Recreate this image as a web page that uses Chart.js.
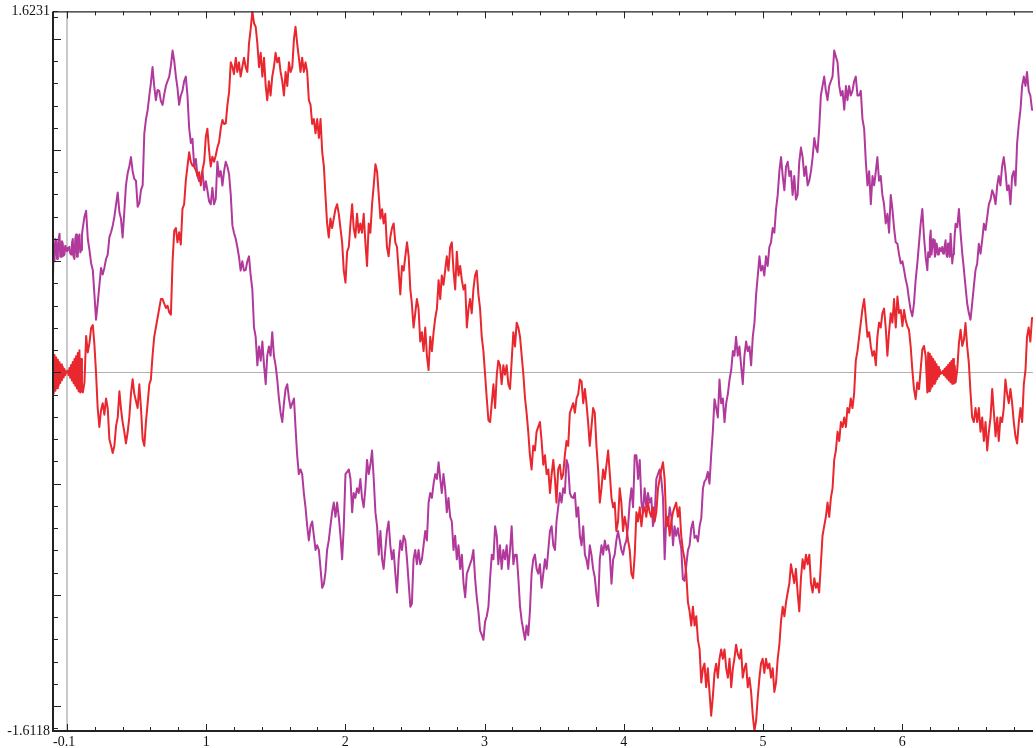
<!DOCTYPE html>
<html><head><meta charset="utf-8">
<script src="https://cdn.jsdelivr.net/npm/chart.js@4/dist/chart.umd.min.js"></script>
<style>html,body{margin:0;padding:0;background:#fff;}canvas{display:block;}</style>
</head><body>
<canvas id="c" width="1036" height="748"></canvas>
<script>
const xValues = [
 -0.101,-0.095,-0.089,-0.083,-0.077,-0.071,-0.065,-0.059,-0.053,-0.048,-0.042,-0.036,-0.030,-0.024,-0.018,-0.012,-0.006,0.000,0.006,0.012,0.018,0.024,0.030,0.036,0.042,0.048,0.054,0.060,0.066,0.072,0.078,0.084,0.090,0.096,0.102,0.108,0.114,0.126,
 0.138,0.150,0.162,0.174,0.186,0.197,0.209,0.221,0.233,0.245,
 0.257,0.269,0.281,0.293,0.305,0.317,0.329,0.341,0.353,0.365,
 0.377,0.388,0.400,0.412,0.424,0.436,0.448,0.460,0.472,0.484,
 0.496,0.508,0.520,0.532,0.544,0.556,0.568,0.580,0.592,0.603,
 0.615,0.627,0.639,0.651,0.663,0.675,0.687,0.699,0.711,0.723,
 0.735,0.747,0.759,0.771,0.783,0.794,0.806,0.818,0.830,0.842,
 0.854,0.866,0.878,0.890,0.902,0.914,0.926,0.938,0.950,0.962,
 0.974,0.986,0.998,1.009,1.021,1.033,1.045,1.057,1.069,1.081,
 1.093,1.105,1.117,1.129,1.141,1.153,1.165,1.177,1.189,1.200,
 1.213,1.224,1.236,1.248,1.260,1.272,1.284,1.296,1.308,1.320,
 1.332,1.344,1.356,1.368,1.380,1.392,1.404,1.416,1.428,1.439,
 1.451,1.463,1.475,1.487,1.499,1.511,1.523,1.535,1.547,1.559,
 1.571,1.583,1.595,1.607,1.619,1.631,1.642,1.654,1.666,1.678,
 1.690,1.702,1.714,1.726,1.738,1.750,1.762,1.774,1.786,1.798,
 1.810,1.822,1.834,1.846,1.857,1.869,1.881,1.893,1.905,1.917,
 1.929,1.941,1.953,1.965,1.977,1.989,2.001,2.013,2.025,2.037,
 2.049,2.060,2.072,2.084,2.096,2.108,2.120,2.132,2.144,2.156,
 2.168,2.180,2.192,2.204,2.216,2.228,2.240,2.252,2.264,2.275,
 2.287,2.299,2.311,2.323,2.335,2.347,2.359,2.371,2.383,2.395,
 2.407,2.419,2.431,2.443,2.455,2.467,2.478,2.490,2.502,2.514,
 2.526,2.538,2.550,2.562,2.574,2.586,2.598,2.610,2.622,2.634,
 2.646,2.658,2.670,2.682,2.693,2.705,2.717,2.729,2.741,2.753,
 2.765,2.777,2.789,2.801,2.813,2.825,2.837,2.849,2.861,2.873,
 2.885,2.896,2.908,2.920,2.932,2.944,2.956,2.968,2.980,2.992,
 3.004,3.016,3.028,3.040,3.052,3.064,3.076,3.088,3.099,3.111,
 3.123,3.135,3.147,3.159,3.171,3.183,3.195,3.207,3.219,3.231,
 3.243,3.255,3.267,3.279,3.291,3.302,3.314,3.326,3.338,3.350,
 3.362,3.374,3.386,3.398,3.410,3.422,3.434,3.446,3.458,3.470,
 3.482,3.494,3.506,3.517,3.529,3.541,3.553,3.565,3.577,3.589,
 3.601,3.613,3.625,3.637,3.649,3.661,3.673,3.685,3.697,3.709,
 3.721,3.732,3.744,3.756,3.768,3.780,3.792,3.804,3.816,3.828,
 3.840,3.852,3.864,3.876,3.888,3.900,3.912,3.924,3.935,3.947,
 3.959,3.971,3.983,3.995,4.007,4.019,4.031,4.043,4.055,4.067,
 4.079,4.091,4.103,4.115,4.127,4.138,4.150,4.162,4.174,4.186,
 4.198,4.210,4.222,4.234,4.246,4.258,4.270,4.282,4.294,4.306,
 4.318,4.330,4.342,4.354,4.365,4.377,4.389,4.401,4.413,4.425,
 4.437,4.449,4.461,4.473,4.485,4.497,4.509,4.521,4.533,4.545,
 4.557,4.569,4.580,4.592,4.604,4.616,4.628,4.640,4.652,4.664,
 4.676,4.688,4.700,4.712,4.724,4.736,4.748,4.760,4.772,4.784,
 4.795,4.807,4.819,4.831,4.843,4.855,4.867,4.879,4.891,4.903,
 4.915,4.927,4.939,4.951,4.963,4.975,4.986,4.998,5.010,5.022,
 5.034,5.046,5.058,5.070,5.082,5.094,5.106,5.118,5.130,5.142,
 5.154,5.166,5.178,5.190,5.201,5.213,5.225,5.237,5.249,5.261,
 5.273,5.285,5.297,5.309,5.321,5.333,5.345,5.357,5.369,5.381,
 5.392,5.404,5.416,5.428,5.440,5.452,5.464,5.476,5.488,5.500,
 5.512,5.524,5.536,5.548,5.560,5.572,5.584,5.596,5.607,5.619,
 5.631,5.643,5.655,5.667,5.679,5.691,5.703,5.715,5.727,5.739,
 5.751,5.763,5.775,5.787,5.799,5.811,5.822,5.834,5.846,5.858,
 5.870,5.882,5.894,5.906,5.918,5.930,5.942,5.954,5.966,5.978,
 5.990,6.002,6.014,6.025,6.037,6.049,6.061,6.073,6.085,6.097,
 6.109,6.121,6.133,6.145,6.157,6.169,
 6.181,6.187,6.193,6.199,6.205,6.211,6.217,6.223,6.229,6.235,6.241,6.247,6.252,6.258,6.264,6.270,6.276,6.282,6.288,6.294,6.300,6.306,6.312,6.318,6.324,6.330,6.336,6.342,6.348,6.354,6.360,6.366,6.372,6.378,6.384,
 6.396,6.408,6.420,6.432,6.444,6.455,6.467,6.479,6.491,6.503,
 6.515,6.527,6.539,6.551,6.563,6.575,6.587,6.599,6.611,6.623,
 6.635,6.647,6.659,6.671,6.683,6.694,6.706,6.718,6.730,6.742,
 6.754,6.766,6.778,6.790,6.802,6.814,6.826,6.838,6.850,6.862,
 6.874,6.886,6.897,6.909,6.921,6.933,6.945
];

// red curve
const redValues = [
 0.088,-0.094,0.078,-0.082,0.067,-0.071,0.057,-0.059,0.046,-0.047,0.036,-0.035,0.026,-0.023,0.015,-0.012,0.005,0.0,0.007,-0.012,0.020,-0.024,0.034,-0.036,0.047,-0.048,0.060,-0.060,0.073,-0.072,0.087,-0.084,0.100,-0.09,0.06,-0.085,-0.09,-0.045,
 0.164,0.09,0.133,0.20,0.213,0.13,0.0,-0.160,-0.245,-0.17,
 -0.138,-0.19,-0.117,-0.16,-0.30,-0.33,-0.362,-0.33,-0.24,-0.202,
 -0.085,-0.16,-0.223,-0.266,-0.319,-0.27,-0.202,-0.096,-0.03,-0.096,
 -0.128,-0.160,-0.053,-0.16,-0.30,-0.330,-0.22,-0.138,-0.053,-0.032,
 0.075,0.160,0.202,0.245,0.287,0.33,0.33,0.31,0.29,0.30,
 0.27,0.26,0.50,0.638,0.649,0.585,0.63,0.575,0.735,0.756,
 0.862,0.926,0.99,0.947,0.93,0.926,0.91,0.883,0.90,0.841,
 0.91,0.947,1.06,1.096,1.00,0.926,0.97,0.947,0.975,1.011,
 1.036,1.096,1.135,1.117,1.12,1.203,1.26,1.394,1.373,1.341,
 1.415,1.351,1.394,1.330,1.373,1.415,1.373,1.351,1.479,1.543,
 1.6231,1.57,1.554,1.479,1.373,1.437,1.330,1.415,1.288,1.224,
 1.309,1.245,1.330,1.373,1.437,1.394,1.415,1.351,1.309,1.245,
 1.351,1.288,1.394,1.351,1.373,1.500,1.554,1.479,1.415,1.351,
 1.415,1.351,1.394,1.351,1.224,1.203,1.117,1.139,1.075,1.139,
 1.054,1.139,0.990,0.926,0.798,0.670,0.607,0.692,0.649,0.692,
 0.734,0.756,0.713,0.649,0.585,0.458,0.404,0.543,0.564,0.670,
 0.756,0.649,0.607,0.713,0.628,0.670,0.628,0.713,0.585,0.479,
 0.670,0.628,0.756,0.841,0.936,0.905,0.798,0.692,0.734,0.670,
 0.713,0.564,0.522,0.607,0.649,0.670,0.585,0.564,0.458,0.351,
 0.479,0.458,0.522,0.585,0.522,0.373,0.309,0.202,0.266,0.330,
 0.287,0.139,0.181,0.096,0.202,0.075,0.011,0.160,0.096,0.181,
 0.245,0.287,0.415,0.330,0.436,0.394,0.458,0.522,0.458,0.564,
 0.585,0.458,0.373,0.543,0.436,0.479,0.415,0.373,0.394,0.202,
 0.287,0.330,0.266,0.373,0.436,0.458,0.351,0.287,0.160,0.096,
 -0.010,-0.117,-0.215,-0.223,-0.138,-0.053,-0.160,-0.010,0.053,0.032,
 -0.053,0.032,-0.010,0.032,-0.053,-0.074,0.053,0.181,0.117,0.224,
 0.202,0.160,0.075,-0.010,-0.117,-0.181,-0.266,-0.372,-0.436,-0.330,
 -0.351,-0.266,-0.245,-0.223,-0.308,-0.415,-0.372,-0.457,-0.436,-0.542,
 -0.457,-0.393,-0.479,-0.585,-0.436,-0.415,-0.479,-0.457,-0.372,-0.308,
 -0.330,-0.181,-0.160,-0.138,-0.181,-0.117,-0.096,-0.032,-0.04,-0.138,
 -0.074,-0.138,-0.223,-0.330,-0.245,-0.160,-0.181,-0.330,-0.436,-0.585,
 -0.521,-0.436,-0.479,-0.415,-0.351,-0.457,-0.564,-0.606,-0.585,-0.713,
 -0.670,-0.521,-0.585,-0.713,-0.649,-0.691,-0.755,-0.798,-0.904,-0.925,
 -0.819,-0.628,-0.670,-0.606,-0.691,-0.628,-0.606,-0.649,-0.585,-0.628,
 -0.649,-0.606,-0.670,-0.628,-0.521,-0.479,-0.436,-0.404,-0.48,-0.691,
 -0.649,-0.734,-0.670,-0.628,-0.606,-0.585,-0.649,-0.606,-0.734,-0.798,
 -0.840,-0.904,-1.032,-1.074,-1.138,-1.053,-1.138,-1.096,-1.202,-1.245,
 -1.394,-1.330,-1.309,-1.415,-1.330,-1.436,-1.543,-1.458,-1.351,-1.309,
 -1.372,-1.287,-1.245,-1.287,-1.245,-1.330,-1.372,-1.287,-1.415,-1.330,
 -1.287,-1.224,-1.266,-1.287,-1.245,-1.372,-1.330,-1.309,-1.415,-1.372,
 -1.436,-1.543,-1.6118,-1.564,-1.458,-1.372,-1.309,-1.287,-1.351,-1.287,
 -1.330,-1.309,-1.372,-1.330,-1.436,-1.394,-1.287,-1.224,-1.117,-1.053,
 -1.096,-1.032,-0.989,-0.947,-0.862,-0.904,-0.947,-0.883,-0.989,-1.074,
 -0.925,-0.840,-0.883,-0.819,-0.862,-0.819,-0.947,-0.989,-0.925,-0.968,
 -0.947,-0.989,-0.862,-0.734,-0.691,-0.649,-0.585,-0.649,-0.564,-0.521,
 -0.393,-0.351,-0.266,-0.308,-0.223,-0.245,-0.202,-0.245,-0.160,-0.181,
 -0.117,-0.160,-0.096,0.053,0.096,0.160,0.224,0.287,0.330,0.245,
 0.160,0.181,0.117,0.075,0.096,0.032,0.160,0.224,0.202,0.266,
 0.287,0.202,0.075,0.181,0.266,0.224,0.330,0.202,0.341,0.267,
 0.281,0.208,0.281,0.237,0.208,0.192,0.119,0.014,-0.075,-0.120,
 -0.045,-0.075,0.014,0.103,0.119,0.074,
 -0.09,0.09,-0.085,0.084,-0.074,0.072,-0.063,0.060,-0.051,0.049,-0.040,0.037,-0.029,0.025,-0.018,0.013,-0.007,0.001,-0.003,0.008,-0.011,0.017,-0.019,0.025,-0.028,0.034,-0.036,0.043,-0.044,0.051,-0.052,0.060,-0.050,0.03,-0.045,
 0.014,0.133,0.192,0.119,0.148,0.222,0.119,0.044,-0.089,-0.202,
 -0.223,-0.160,-0.223,-0.160,-0.266,-0.202,-0.308,-0.223,-0.351,-0.266,
 -0.202,-0.074,-0.181,-0.287,-0.202,-0.308,-0.202,-0.223,-0.160,-0.032,
 -0.096,-0.138,-0.074,-0.138,-0.223,-0.287,-0.319,-0.223,-0.160,-0.223,
 -0.053,0.011,0.160,0.202,0.139,0.245,0.245
];

// purple curve
const purpleValues = [
 0.40,0.58,0.50,0.60,0.594,0.51,0.534,0.60,0.624,0.52,0.52,0.59,0.58,0.525,0.53,0.57,0.56,0.545,0.549,0.56,0.565,0.535,0.53,0.58,0.60,0.52,0.51,0.60,0.62,0.52,0.52,0.61,0.62,0.54,0.55,0.62,0.65,0.70,
 0.727,0.60,0.55,0.49,0.46,0.356,0.237,0.311,0.39,0.47,
 0.44,0.47,0.51,0.53,0.607,0.63,0.66,0.70,0.756,0.809,
 0.72,0.692,0.607,0.72,0.841,0.894,0.926,0.968,0.905,0.87,
 0.862,0.745,0.76,0.82,0.841,1.075,1.139,1.18,1.245,1.30,
 1.373,1.288,1.224,1.27,1.266,1.22,1.203,1.25,1.288,1.31,
 1.330,1.38,1.447,1.40,1.330,1.28,1.203,1.245,1.266,1.309,
 1.330,1.245,1.10,1.032,1.05,0.926,0.96,0.883,0.86,0.862,
 0.905,0.819,0.86,0.819,0.77,0.756,0.83,0.756,0.78,0.947,
 0.88,0.905,0.84,0.905,0.947,0.926,0.89,0.798,0.66,0.628,
 0.60,0.564,0.52,0.458,0.50,0.458,0.46,0.50,0.522,0.436,
 0.373,0.202,0.160,0.032,0.117,0.053,0.139,0.032,-0.053,0.075,
 0.117,0.075,0.181,0.075,0.032,-0.032,-0.117,-0.181,-0.223,-0.138,
 -0.074,-0.053,-0.117,-0.160,-0.138,-0.117,-0.245,-0.372,-0.457,-0.436,
 -0.457,-0.542,-0.606,-0.691,-0.755,-0.691,-0.670,-0.734,-0.798,-0.777,
 -0.798,-0.883,-0.968,-0.95,-0.90,-0.798,-0.755,-0.691,-0.628,-0.585,
 -0.649,-0.585,-0.649,-0.734,-0.840,-0.691,-0.457,-0.447,-0.436,-0.479,
 -0.628,-0.542,-0.564,-0.521,-0.542,-0.479,-0.564,-0.606,-0.521,-0.393,
 -0.457,-0.415,-0.351,-0.479,-0.628,-0.691,-0.819,-0.713,-0.840,-0.883,
 -0.798,-0.713,-0.670,-0.777,-0.840,-0.798,-0.904,-0.989,-0.840,-0.755,
 -0.798,-0.734,-0.755,-0.840,-0.947,-1.053,-1.04,-0.840,-0.798,-0.862,
 -0.798,-0.862,-0.840,-0.777,-0.713,-0.755,-0.585,-0.542,-0.564,-0.500,
 -0.457,-0.479,-0.404,-0.479,-0.542,-0.457,-0.521,-0.628,-0.564,-0.649,
 -0.670,-0.798,-0.734,-0.840,-0.777,-0.883,-0.819,-0.947,-1.011,-0.904,
 -0.883,-0.862,-0.840,-0.798,-0.925,-1.011,-1.074,-1.160,-1.18,-1.202,
 -1.12,-1.096,-1.053,-0.925,-0.819,-0.840,-0.691,-0.734,-0.862,-0.777,
 -0.883,-0.798,-0.840,-0.777,-0.883,-0.798,-0.691,-0.862,-0.819,-0.819,
 -0.925,-1.053,-1.117,-1.160,-1.202,-1.138,-1.181,-1.074,-0.904,-0.840,
 -0.819,-0.883,-0.904,-0.862,-0.968,-0.904,-0.840,-0.883,-0.798,-0.713,
 -0.691,-0.777,-0.798,-0.670,-0.606,-0.542,-0.585,-0.521,-0.542,-0.393,
 -0.42,-0.542,-0.56,-0.564,-0.542,-0.649,-0.606,-0.734,-0.777,-0.691,
 -0.819,-0.840,-0.883,-0.777,-0.819,-0.883,-0.92,-1.0,-1.05,-0.840,
 -0.777,-0.819,-0.755,-0.798,-0.777,-0.819,-0.95,-0.840,-0.819,-0.755,
 -0.713,-0.755,-0.798,-0.819,-0.777,-0.755,-0.691,-0.585,-0.521,-0.606,
 -0.372,-0.372,-0.479,-0.393,-0.585,-0.628,-0.521,-0.606,-0.542,-0.585,
 -0.564,-0.691,-0.649,-0.479,-0.457,-0.436,-0.479,-0.564,-0.840,-0.649,
 -0.691,-0.606,-0.649,-0.777,-0.691,-0.734,-0.70,-0.75,-0.79,-0.93,
 -0.937,-0.87,-0.80,-0.777,-0.70,-0.670,-0.744,-0.734,-0.76,-0.691,
 -0.655,-0.521,-0.49,-0.479,-0.447,-0.500,-0.372,-0.266,-0.12,-0.160,
 -0.202,-0.032,-0.138,-0.117,-0.223,-0.138,-0.096,-0.032,0.011,0.096,
 0.075,0.160,0.075,0.117,0.032,-0.053,0.075,0.139,0.096,0.117,
 0.032,0.160,0.224,0.351,0.436,0.522,0.458,0.479,0.436,0.522,
 0.479,0.564,0.585,0.649,0.628,0.734,0.798,0.905,0.968,0.883,
 0.819,0.926,0.947,0.883,0.905,0.798,0.883,0.777,0.798,0.947,
 1.011,0.968,0.883,0.926,0.841,0.862,0.905,0.968,1.054,1.011,
 0.990,1.096,1.245,1.288,1.330,1.266,1.224,1.288,1.309,1.330,
 1.447,1.42,1.394,1.288,1.245,1.266,1.181,1.288,1.224,1.288,
 1.245,1.266,1.309,1.330,1.245,1.245,1.266,1.139,1.096,0.947,
 0.841,0.905,0.756,0.883,0.841,0.905,0.968,0.862,0.883,0.798,
 0.756,0.670,0.713,0.628,0.798,0.734,0.649,0.585,0.579,0.53,
 0.490,0.50,0.460,0.42,0.387,0.33,0.281,0.253,0.311,0.415,
 0.490,0.579,0.668,0.735,0.609,0.519,
 0.460,0.54,0.519,0.60,0.638,0.53,0.564,0.60,0.594,0.52,0.534,0.58,0.564,0.53,0.534,0.56,0.549,0.545,0.564,0.535,0.534,0.57,0.594,0.53,0.519,0.58,0.55,0.52,0.624,0.56,0.490,0.53,0.549,0.62,0.668,
 0.653,0.735,0.624,0.534,0.460,0.387,0.311,0.267,0.237,0.311,
 0.387,0.460,0.490,0.579,0.534,0.594,0.668,0.64,0.698,0.757,
 0.777,0.819,0.798,0.756,0.841,0.883,0.841,0.926,0.968,0.905,
 0.819,0.841,0.756,0.883,0.905,0.841,1.032,1.117,1.181,1.288,
 1.330,1.288,1.351,1.266,1.245,1.181,1.181
];

// axis ticks and labels
const xLabelValues = [-0.1, 1, 2, 3, 4, 5, 6];
const xLabels = ['-0.1', '1', '2', '3', '4', '5', '6'];
const yLabelValues = [-1.6118, 1.6231];
const yLabels = ['-1.6118', '1.6231'];
const xTickMarks = [0,0.2,0.4,0.6,0.8,1,1.2,1.4,1.6,1.8,2,2.2,2.4,2.6,2.8,3,3.2,3.4,3.6,3.8,4,4.2,4.4,4.6,4.8,5,5.2,5.4,5.6,5.8,6,6.2,6.4,6.6,6.8];
const yTickMarks = [-1.6,-1.5,-1.4,-1.3,-1.2,-1.1,-1,-0.9,-0.8,-0.7,-0.6,-0.5,-0.4,-0.3,-0.2,-0.1,0,0.1,0.2,0.3,0.4,0.5,0.6,0.7,0.8,0.9,1,1.1,1.2,1.3,1.4,1.5,1.6];
const xMin = -0.1, xMax = 6.94, yMin = -1.6118, yMax = 1.6231;

if (redValues.length !== xValues.length || purpleValues.length !== xValues.length) {
  throw new Error('length mismatch x=' + xValues.length + ' red=' + redValues.length + ' purple=' + purpleValues.length);
}

const toPoints = vals => xValues.map((x, i) => ({x: x, y: vals[i]}));

const framePlugin = {
  id: 'frame',
  beforeDatasetsDraw(chart) {
    const {ctx, chartArea: a, scales: {x, y}} = chart;
    ctx.save();
    const px0 = Math.round(x.getPixelForValue(0));
    ctx.strokeStyle = '#c9c9c9'; ctx.lineWidth = 2;
    ctx.beginPath(); ctx.moveTo(px0, a.top); ctx.lineTo(px0, a.bottom); ctx.stroke();
    const py0 = Math.round(y.getPixelForValue(0)) + 0.5;
    ctx.strokeStyle = '#b0b0b0'; ctx.lineWidth = 1;
    ctx.beginPath(); ctx.moveTo(a.left, py0); ctx.lineTo(a.right, py0); ctx.stroke();
    ctx.restore();
  },
  afterDatasetsDraw(chart) {
    const {ctx, chartArea: a, scales: {x, y}} = chart;
    ctx.save();
    ctx.strokeStyle = '#222';
    ctx.lineWidth = 2;
    ctx.beginPath();
    ctx.moveTo(a.left, a.top); ctx.lineTo(a.left, a.bottom); ctx.lineTo(a.right, a.bottom);
    ctx.stroke();
    ctx.lineWidth = 1.2;
    ctx.beginPath(); ctx.moveTo(a.left, a.top + 0.5); ctx.lineTo(a.right, a.top + 0.5); ctx.stroke();
    ctx.lineWidth = 1;
    ctx.beginPath();
    xTickMarks.forEach(v => {
      const p = Math.round(x.getPixelForValue(v)) + 0.5;
      const len = Math.abs(v - Math.round(v)) < 1e-6 ? 7 : 4;
      ctx.moveTo(p, a.bottom); ctx.lineTo(p, a.bottom - len);
      ctx.moveTo(p, a.top); ctx.lineTo(p, a.top + len);
    });
    yTickMarks.forEach(v => {
      const p = Math.round(y.getPixelForValue(v)) + 0.5;
      const major = Math.abs(v * 2 - Math.round(v * 2)) < 1e-6;
      ctx.moveTo(a.left, p); ctx.lineTo(a.left + (major ? 8 : 5), p);
    });
    yLabelValues.forEach(v => {
      const p = Math.round(y.getPixelForValue(v)) + 0.5;
      ctx.moveTo(a.left, p); ctx.lineTo(a.left + 5, p);
    });
    ctx.stroke();
    ctx.restore();
  }
};

const labelFont = {family: "'Liberation Serif', 'DejaVu Serif', serif", size: 14};

new Chart(document.getElementById('c').getContext('2d'), {
  type: 'line',
  data: {
    datasets: [
      {data: toPoints(redValues), borderColor: '#e8272e', borderWidth: 2, borderJoinStyle: 'round', pointRadius: 0, tension: 0, order: 0},
      {data: toPoints(purpleValues), borderColor: '#b1399c', borderWidth: 2, borderJoinStyle: 'round', pointRadius: 0, tension: 0, order: 1}
    ]
  },
  options: {
    responsive: false,
    animation: false,
    devicePixelRatio: 1,
    layout: {padding: {top: 5, left: 0, right: 0, bottom: 0}},
    plugins: {legend: {display: false}, tooltip: {enabled: false}},
    scales: {
      x: {
        type: 'linear', min: xMin, max: xMax,
        afterBuildTicks: s => { s.ticks = xLabelValues.concat([xMax]).map(v => ({value: v})); },
        afterFit: s => { s.height = 17; },
        grid: {display: false, drawTicks: false}, border: {display: false},
        ticks: {autoSkip: false, maxRotation: 0, align: 'inner', padding: 3, color: '#111', font: labelFont,
                callback: (v, i) => (i < xLabels.length ? xLabels[i] : '')}
      },
      y: {
        type: 'linear', min: yMin, max: yMax,
        afterBuildTicks: s => { s.ticks = yLabelValues.map(v => ({value: v})); },
        afterFit: s => { s.width = 53; },
        grid: {display: false, drawTicks: false}, border: {display: false},
        ticks: {autoSkip: false, padding: 3, color: '#111', font: labelFont,
                callback: (v, i) => yLabels[i]}
      }
    }
  },
  plugins: [framePlugin]
});
</script>
</body></html>
